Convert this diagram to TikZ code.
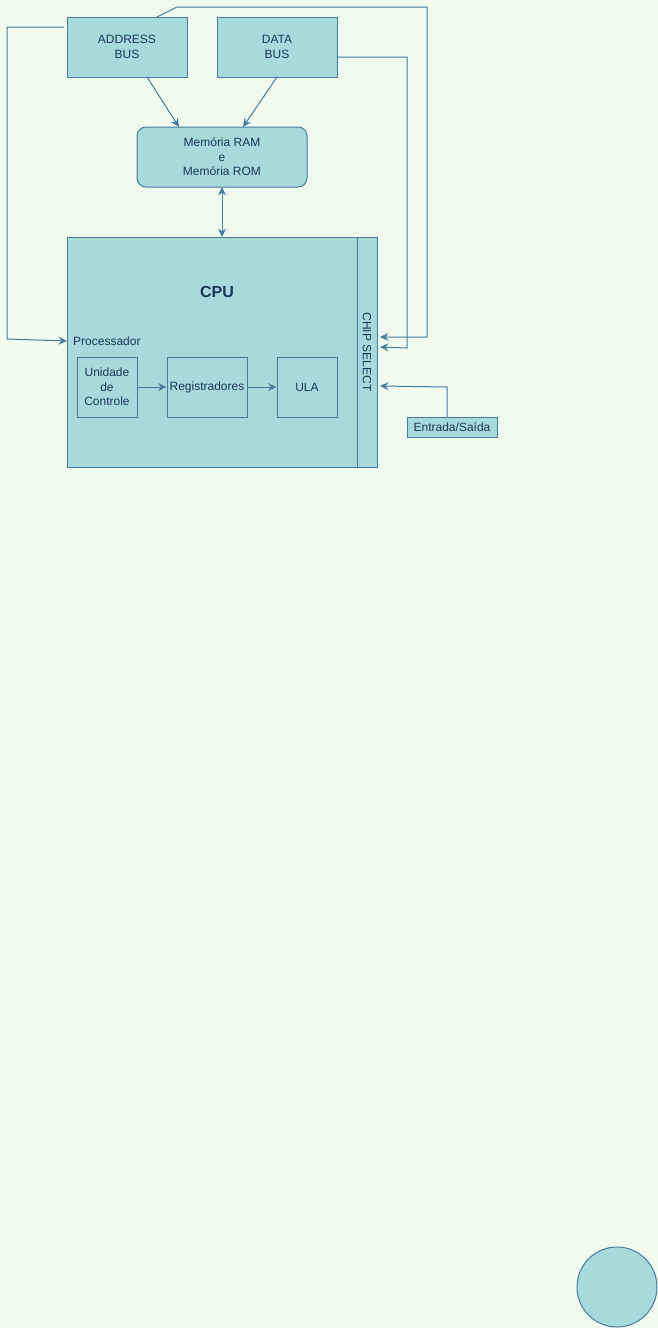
\documentclass[tikz,border=0pt]{standalone}
\usepackage{fontspec}
\setmainfont{Liberation Sans}
\usetikzlibrary{arrows.meta}
\definecolor{bg}{HTML}{F1FAEE}
\definecolor{fillc}{HTML}{A8DADC}
\definecolor{strokec}{HTML}{457B9D}
\definecolor{textc}{HTML}{1D3557}
\tikzset{
  box/.style={draw=strokec, fill=fillc, text=textc, line width=1pt, inner sep=0pt, align=center,
    font=\fontsize{12}{14.4}\selectfont},
  lbl/.style={text=textc, inner sep=0pt, font=\fontsize{12}{14.4}\selectfont},
  tip/.tip={Stealth[length=8.5pt,width=8pt,inset=3pt]},
  conn/.style={draw=strokec, line width=1pt, -tip},
  line/.style={draw=strokec, line width=1pt},
}
\begin{document}
\begin{tikzpicture}[x=1pt,y=-1pt]
\useasboundingbox (0,0) rectangle (658,1328);
\fill[bg] (0,0) rectangle (658,1328);

% nodes
\node[box, minimum width=120pt, minimum height=60pt] (addr) at (127,47) {ADDRESS\\BUS};
\node[box, minimum width=120pt, minimum height=60pt] (data) at (277,47) {DATA\\BUS};
\node[box, minimum width=170pt, minimum height=60pt, rounded corners=9pt] (mem) at (222,157) {Memória RAM\\e\\Memória ROM};
\node[box, minimum width=290pt, minimum height=230pt] (cpu) at (212,352) {};
\node[box, minimum width=20pt, minimum height=230pt] (cs) at (367,352) {};
\node[lbl, rotate=-90] (cstext) at (367,352) {CHIP SELECT};
\node[lbl, font=\fontsize{16}{19}\selectfont\bfseries] (cputext) at (217,292) {CPU};
\node[lbl, anchor=west] (proc) at (73,341) {Processador};
\node[box, minimum width=60pt, minimum height=60pt] (uc) at (107,387) {Unidade\\de\\Controle};
\node[box, minimum width=80pt, minimum height=60pt] (reg) at (207,387) {Registradores};
\node[box, minimum width=60pt, minimum height=60pt] (ula) at (307,387) {ULA};
\node[box, minimum width=90pt, minimum height=20pt] (io) at (452,427) {Entrada/Saída};
\node[box, circle, minimum size=80pt] (circ) at (617,1287) {};

% connector points
\coordinate (a1) at (147,77);
\coordinate (m1) at (179,127);
\coordinate (d1) at (277,77);
\coordinate (m2) at (243,127);
\coordinate (m3) at (222,187);
\coordinate (c1) at (222,237);
\coordinate (a2) at (64,27);
\coordinate (p1) at (67,341);
\coordinate (a3) at (157,17);
\coordinate (cs1) at (380,337);
\coordinate (d2) at (337,57);
\coordinate (cs2) at (380,347);
\coordinate (io1) at (447,417);
\coordinate (cs3) at (380,386);

% connectors
\draw[conn] (a1) -- (m1);
\draw[conn] (d1) -- (m2);
\draw[conn, tip-tip] (m3) -- (c1);
\draw[conn] (a2) -- (7,27) -- (7,339) -- (p1);
\draw[conn] (a3) -- (177,7) -- (427,7) -- (427,337) -- (cs1);
\draw[conn] (d2) -- (407,57) -- (407,348) -- (cs2);
\draw[conn] (io1) -- (447,387) -- (cs3);
\draw[conn] (uc) -- (reg);
\draw[conn] (reg) -- (ula);
\end{tikzpicture}
\end{document}
